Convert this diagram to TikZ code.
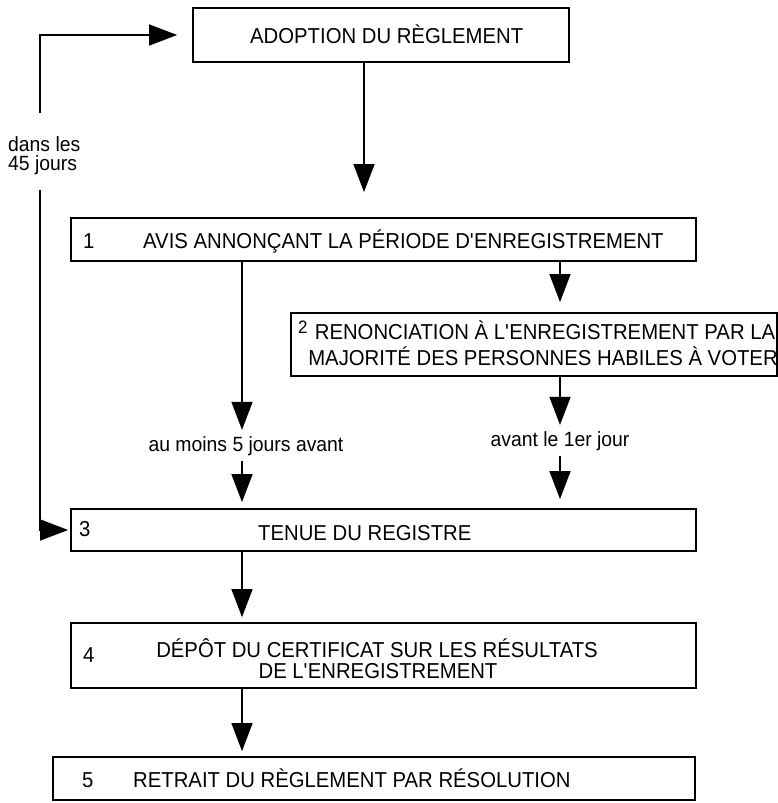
\documentclass[tikz,border=0pt]{standalone}
\usepackage{fontspec}
\setmainfont{Liberation Sans}[FakeStretch=0.94]
\usetikzlibrary{arrows.meta,positioning}
\newcommand{\boxlw}{1.8pt}
\newcommand{\arrlw}{1.5pt}
\newcommand{\bigtxt}{\fontsize{21.6}{24}\selectfont}
\newcommand{\smalltxt}{\fontsize{20.6}{22}\selectfont}
\newcommand{\apos}{\textquotesingle}

\begin{document}
\begin{tikzpicture}[x=1pt, y=-1pt]
                        %\draw[help lines, step=50] (0,0) grid (778,803);
                        \useasboundingbox (0,0) rectangle (778,803);
                        \tikzset{etape/.style = {draw, rectangle, line width = \boxlw, inner sep = 0pt},
                                 txt/.style = {inner sep = 0pt, font = \bigtxt},
                                 lbl/.style = {inner xsep = 0pt, inner ysep = 6pt, font = \smalltxt, anchor = base},
                                 fleche/.style = {line width = \arrlw, -{Triangle[length=28pt, width=21pt]}}}
                        % colonnes des fleches
                        \coordinate (col0) at (364,0);
                        \coordinate (col1) at (242,0);
                        \coordinate (col2) at (560,0);
                        % les boites
                        \node[etape, minimum width=376pt, minimum height=54pt] (adopt) at (381,35) {};
                        \node[etape, minimum width=625pt, minimum height=43pt] (avis) at (383.5,239.5) {};
                        \node[etape, minimum width=486pt, minimum height=63pt] (renon) at (534,344.5) {};
                        \node[etape, minimum width=625pt, minimum height=42pt] (tenue) at (383.5,530) {};
                        \node[etape, minimum width=625pt, minimum height=65pt] (depot) at (383.5,655.5) {};
                        \node[etape, minimum width=642pt, minimum height=43pt] (retrait) at (374,778.5) {};
                        % les textes
                        \node[txt, anchor=base west] (adoptt) at (250,43) {ADOPTION DU RÈGLEMENT};
                        \node[txt, anchor=base west] (num1) at (83,248) {1};
                        \node[txt, anchor=base west] (avist) at (143,248) {AVIS ANNONÇANT LA PÉRIODE D\apos ENREGISTREMENT};
                        \node[txt, anchor=base west, font=\fontsize{18}{20}\selectfont] (num2) at (298,333) {2};
                        \node[txt, anchor=base] (renont1) at (545,339.5) {RENONCIATION À L\apos ENREGISTREMENT PAR LA};
                        \node[txt, anchor=base] (renont2) at (543,365) {MAJORITÉ DES PERSONNES HABILES À VOTER};
                        \node[txt, anchor=base west] (num3) at (79,536) {3};
                        \node[txt, anchor=base west] (tenuet) at (258,540) {TENUE DU REGISTRE};
                        \node[txt, anchor=base west] (num4) at (83,662) {4};
                        \node[txt, anchor=base] (depott1) at (377,657) {DÉPÔT DU CERTIFICAT SUR LES RÉSULTATS};
                        \node[txt, anchor=base] (depott2) at (378,678) {DE L\apos ENREGISTREMENT};
                        \node[txt, anchor=base west] (num5) at (82,787) {5};
                        \node[txt, anchor=base west] (retraitt) at (133,787) {RETRAIT DU RÈGLEMENT PAR RÉSOLUTION};
                        % les delais
                        \node[lbl] (moins) at (246,451) {au moins 5 jours avant};
                        \node[lbl] (avant) at (560,446) {avant le 1er jour};
                        \node[lbl, anchor=base west] (dans1) at (8,151) {dans les};
                        \node[lbl, anchor=base west] (dans2) at (8,170) {45 jours};
                        \coordinate (gaphaut) at (40,113);
                        \coordinate (gapbas) at (40,190);
                        % les fleches
                        \draw[fleche, shorten > = 25pt] (col0 |- adopt.south) -- (col0 |- avis.north);
                        \draw[fleche] (col1 |- avis.south) -- (col1 |- moins.north);
                        \draw[fleche, shorten > = 6pt] (col1 |- moins.south) -- (col1 |- tenue.north);
                        \draw[fleche, shorten > = 10pt] (col2 |- avis.south) -- (col2 |- renon.north);
                        \draw[fleche] (col2 |- renon.south) -- (col2 |- avant.north);
                        \draw[fleche, shorten > = 9pt] (col2 |- avant.south) -- (col2 |- tenue.north);
                        \draw[fleche, shorten > = 5pt] (col1 |- tenue.south) -- (col1 |- depot.north);
                        \draw[fleche, shorten > = 5pt] (col1 |- depot.south) -- (col1 |- retrait.north);
                        \draw[fleche, shorten > = 15pt] (gaphaut) |- (adopt.west);
                        \draw[fleche, shorten > = 2pt] (gapbas) |- (tenue.west);
\end{tikzpicture}
\end{document}
